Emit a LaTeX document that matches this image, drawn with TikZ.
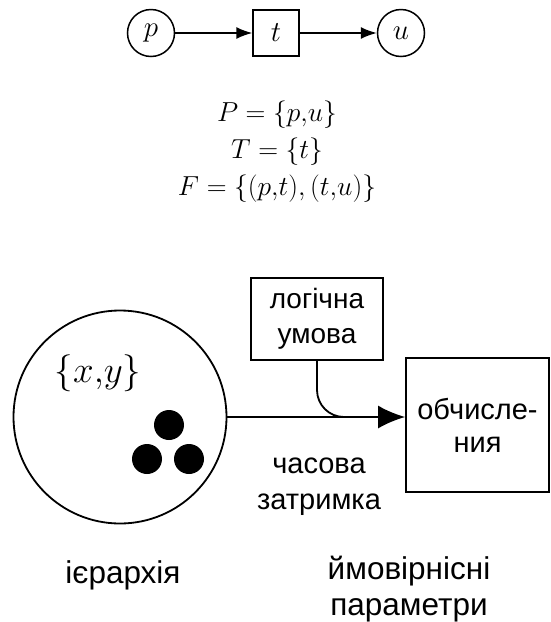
\RequirePackage{fix-cm}
\documentclass[tikz,border=0pt]{standalone}
\usepackage{fontspec}
\newfontfamily\uafont{Liberation Sans}
\usepackage{tikz}
\usetikzlibrary{arrows.meta, positioning, calc}

\tikzset{
    place/.style={circle, draw, line width=1.5pt, minimum size=47pt, inner sep=0pt,
        font=\fontsize{29}{32}\selectfont},
    trans/.style={rectangle, draw, line width=1.5pt, minimum size=46pt, inner sep=0pt,
        font=\fontsize{29}{32}\selectfont},
    flow/.style={line width=1.5pt, -{Latex[length=16pt, width=12pt]}},
    uabox/.style={rectangle, draw, line width=1.8pt, align=center, inner sep=0pt},
    ualabel/.style={align=center, inner sep=0pt, font=\uafont\fontsize{29}{36}\selectfont}
}

\begin{document}
\begin{tikzpicture}[x=1pt, y=-1pt]
        \useasboundingbox (0, 0) rectangle (550, 622);

        % Net p -> t -> u
        \node[place] (p) at (151, 33) {$p$};
        \node[trans] (t) at (276, 33) {$t$};
        \node[place] (u) at (401, 33) {$u$};
        \draw[flow] (p) -- (t);
        \draw[flow] (t) -- (u);

        % Sets
        \node[align=center, inner sep=0pt, font=\fontsize{27.5}{37}\selectfont] (sets) at (277, 152)
            {$P=\{p{,}u\}$\\ $T=\{t\}$\\ $F=\{(p{,}t),(t{,}u)\}$};

        % Place with tokens
        \node[circle, draw, line width=1.8pt, minimum size=213pt, inner sep=0pt] (big) at (120, 417) {};
        \node[font=\fontsize{37}{40}\selectfont, inner sep=0pt] (vars) at (98, 373) {$\{x{,}y\}$};
        \fill (169, 425) circle (15pt);
        \fill (147, 459) circle (15pt);
        \fill (189, 459) circle (15pt);

        % Boxes
        \node[uabox, minimum width=132pt, minimum height=82pt,
            font=\uafont\fontsize{28}{35}\selectfont] (logic) at (317, 319) {\raisebox{-3pt}{логічна}\\\raisebox{-3pt}{умова}};
        \node[uabox, minimum width=143pt, minimum height=134pt,
            font=\uafont\fontsize{29}{33}\selectfont] (comp) at (477.5, 425) {обчисле-\\ния};

        % Arcs
        \coordinate (merge) at (362, 417);
        \draw[line width=1.8pt, -{Latex[length=27pt, width=23pt]}] (big.east) -- (big.east -| comp.west);
        \draw[line width=1.8pt, rounded corners=27pt] (logic.south) |- (merge);

        % Labels
        \node[ualabel] (delay) at (319, 487) {часова\\затримка};
        \node[ualabel, font=\uafont\fontsize{31.5}{36}\selectfont] (hier) at (123, 575) {ієрархія};
        \node[ualabel, font=\uafont\fontsize{31.5}{36}\selectfont] (params) at (409, 589) {ймовірнісні\\параметри};
    \end{tikzpicture}
\end{document}
